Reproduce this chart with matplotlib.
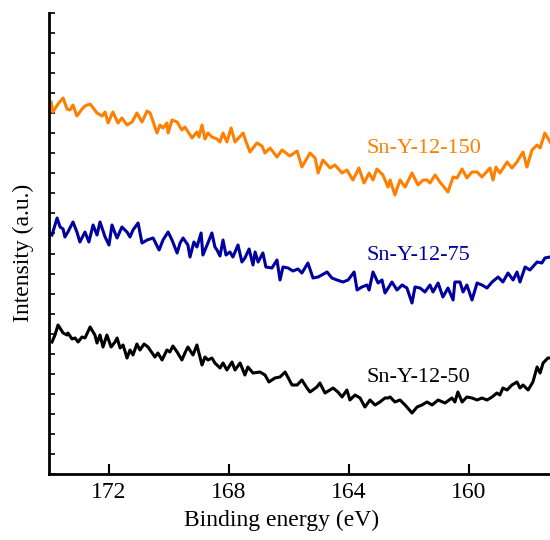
import numpy as np
import matplotlib
matplotlib.use("Agg")
import matplotlib.pyplot as plt

plt.rcParams['font.family'] = ['Liberation Serif', 'DejaVu Serif']

# binding energy (eV) and intensity (a.u.)
energy_150 = [173.93, 173.87, 173.70, 173.53, 173.40, 173.30, 173.20, 173.07, 172.90, 172.80,
              172.63, 172.40, 172.23, 172.13, 172.03, 171.87, 171.70, 171.57, 171.40, 171.23,
              171.07, 170.90, 170.73, 170.63, 170.40, 170.30, 170.20, 170.07, 170.03, 169.90,
              169.73, 169.57, 169.47, 169.23, 169.07, 169.00, 168.90, 168.80, 168.70, 168.57,
              168.40, 168.30, 168.20, 168.07, 167.93, 167.80, 167.53, 167.43, 167.30, 167.07,
              166.90, 166.80, 166.63, 166.40, 166.23, 165.97, 165.73, 165.57, 165.30, 165.13,
              165.03, 164.87, 164.63, 164.47, 164.23, 164.07, 163.87, 163.67, 163.50, 163.33,
              163.20, 163.07, 162.87, 162.70, 162.63, 162.47, 162.30, 162.13, 161.90, 161.70,
              161.53, 161.40, 161.30, 161.13, 160.97, 160.70, 160.53, 160.40, 160.23, 160.07,
              159.90, 159.73, 159.57, 159.30, 159.20, 159.10, 158.97, 158.73, 158.57, 158.40,
              158.20, 158.07, 157.90, 157.73, 157.63, 157.47, 157.30]
intensity_150 = [372, 362, 370, 376, 365, 364, 369, 358, 365, 368,
                 370, 361, 358, 362, 351, 362, 351, 356, 349, 352,
                 361, 352, 363, 361, 341, 349, 346, 351, 341, 354,
                 352, 344, 347, 336, 342, 337, 349, 335, 341, 337,
                 335, 332, 341, 332, 346, 332, 341, 332, 322, 331,
                 328, 321, 326, 317, 324, 318, 323, 307, 321, 316,
                 301, 314, 306, 309, 301, 304, 294, 306, 291, 301,
                 294, 305, 299, 287, 294, 279, 294, 287, 301, 289,
                 294, 294, 291, 299, 292, 282, 297, 296, 305, 296,
                 302, 302, 297, 306, 294, 307, 301, 312, 306, 312,
                 322, 307, 324, 329, 326, 341, 332]

energy_75 = [173.90, 173.73, 173.63, 173.53, 173.47, 173.37, 173.20, 173.07, 172.97, 172.80,
             172.67, 172.53, 172.40, 172.30, 172.13, 172.00, 171.90, 171.80, 171.73, 171.57,
             171.40, 171.30, 171.20, 171.03, 170.90, 170.73, 170.53, 170.33, 170.20, 170.03,
             169.90, 169.73, 169.63, 169.53, 169.37, 169.30, 169.17, 169.07, 168.93, 168.87,
             168.73, 168.57, 168.47, 168.40, 168.30, 168.20, 168.10, 167.97, 167.87, 167.70,
             167.57, 167.47, 167.33, 167.20, 167.13, 167.03, 166.87, 166.77, 166.57, 166.40,
             166.30, 166.20, 166.03, 165.87, 165.70, 165.57, 165.37, 165.20, 165.03, 164.73,
             164.57, 164.40, 164.20, 164.03, 163.83, 163.73, 163.57, 163.40, 163.33, 163.20,
             163.03, 162.90, 162.80, 162.63, 162.57, 162.40, 162.23, 162.07, 161.90, 161.80,
             161.63, 161.47, 161.30, 161.20, 161.03, 160.87, 160.70, 160.53, 160.47, 160.30,
             160.20, 160.07, 159.90, 159.73, 159.57, 159.40, 159.23, 159.03, 158.87, 158.70,
             158.53, 158.40, 158.30, 158.13, 157.97, 157.73, 157.57, 157.47, 157.30]
intensity_75 = [239, 256, 247, 245, 237, 242, 252, 242, 232, 242,
                232, 249, 239, 252, 237, 229, 249, 241, 236, 247,
                242, 237, 244, 251, 231, 234, 236, 224, 234, 242,
                234, 221, 231, 236, 229, 217, 232, 227, 241, 219,
                229, 241, 227, 224, 218, 234, 219, 222, 217, 229,
                212, 216, 225, 209, 222, 212, 221, 207, 206, 214,
                194, 207, 206, 203, 205, 201, 211, 196, 197, 202,
                196, 194, 192, 194, 202, 184, 187, 189, 184, 202,
                191, 194, 181, 189, 192, 184, 189, 186, 171, 187,
                186, 182, 189, 182, 191, 177, 186, 174, 192, 192,
                182, 189, 174, 191, 189, 186, 192, 197, 192, 201,
                194, 202, 192, 207, 204, 212, 211, 216, 217]

energy_50 = [173.90, 173.80, 173.70, 173.53, 173.40, 173.37, 173.23, 173.13, 173.03, 172.90,
             172.80, 172.63, 172.47, 172.40, 172.30, 172.20, 172.07, 171.93, 171.80, 171.73,
             171.63, 171.53, 171.40, 171.30, 171.20, 171.07, 170.97, 170.83, 170.70, 170.47,
             170.37, 170.23, 170.07, 169.97, 169.87, 169.73, 169.57, 169.47, 169.37, 169.20,
             169.07, 168.90, 168.80, 168.70, 168.57, 168.47, 168.30, 168.20, 168.07, 167.90,
             167.80, 167.63, 167.47, 167.37, 167.20, 166.97, 166.80, 166.67, 166.47, 166.30,
             166.13, 165.90, 165.73, 165.57, 165.40, 165.30, 165.07, 164.97, 164.80, 164.53,
             164.37, 164.23, 164.07, 163.97, 163.80, 163.63, 163.47, 163.30, 163.13, 162.97,
             162.80, 162.70, 162.63, 162.47, 162.30, 162.13, 161.90, 161.73, 161.57, 161.40,
             161.23, 161.03, 160.80, 160.57, 160.47, 160.37, 160.23, 160.07, 159.90, 159.73,
             159.57, 159.40, 159.23, 159.07, 158.97, 158.87, 158.73, 158.57, 158.40, 158.30,
             158.20, 158.03, 157.87, 157.73, 157.63, 157.53, 157.37, 157.30]
intensity_50 = [132, 139, 149, 141, 139, 141, 135, 136, 132, 137,
                136, 147, 139, 131, 139, 127, 139, 127, 132, 136,
                126, 129, 116, 124, 119, 130, 124, 130, 127, 117,
                121, 114, 124, 122, 128, 122, 114, 121, 127, 119,
                129, 109, 117, 114, 116, 111, 106, 111, 104, 112,
                104, 111, 99, 107, 101, 102, 99, 92, 96, 97,
                102, 89, 89, 94, 86, 82, 87, 91, 81, 86,
                82, 77, 84, 74, 79, 76, 67, 74, 69, 72,
                76, 76, 77, 72, 74, 69, 61, 67, 69, 72,
                69, 74, 71, 76, 72, 82, 72, 77, 76, 74,
                76, 74, 77, 81, 79, 86, 84, 89, 92, 86,
                89, 84, 92, 107, 101, 111, 116, 116]

series = [
    (energy_150, intensity_150, '#ff7f00', 'Sn-Y-12-150', 321),
    (energy_75, intensity_75, '#0000a0', 'Sn-Y-12-75', 214),
    (energy_50, intensity_50, '#000000', 'Sn-Y-12-50', 92),
]
label_x = 163.40
x_ticks = [172, 168, 164, 160]

fig = plt.figure(figsize=(5.5, 5.4), dpi=100)
ax = fig.add_axes([49 / 550, 66 / 540, 501 / 550, 461 / 540])

for e, inten, color, name, ly in series:
    ax.plot(e, inten, color=color, linewidth=2.2)
    ax.text(label_x, ly, name, color=color, fontsize=16, ha='left', va='baseline')

ax.set_xlim(174.0, 157.3)
ax.set_ylim(0, 461)
ax.set_xticks(x_ticks)
ax.set_yticks(np.linspace(0, 461, 24))
ax.set_yticklabels([])

for side in ['top', 'right']:
    ax.spines[side].set_visible(False)
for side in ['left', 'bottom']:
    ax.spines[side].set_linewidth(2.0)

ax.tick_params(axis='x', direction='in', length=7, width=1.5, labelsize=17, pad=6)
ax.tick_params(axis='y', direction='in', length=4, width=1.2)

ax.set_xlabel('Binding energy (eV)', fontsize=17)
ax.set_ylabel('Intensity (a.u.)', fontsize=17)
ax.xaxis.set_label_coords(0.465, -0.077)
ax.yaxis.set_label_coords(-0.029, 0.48)

fig.savefig('out.png', dpi=100)
